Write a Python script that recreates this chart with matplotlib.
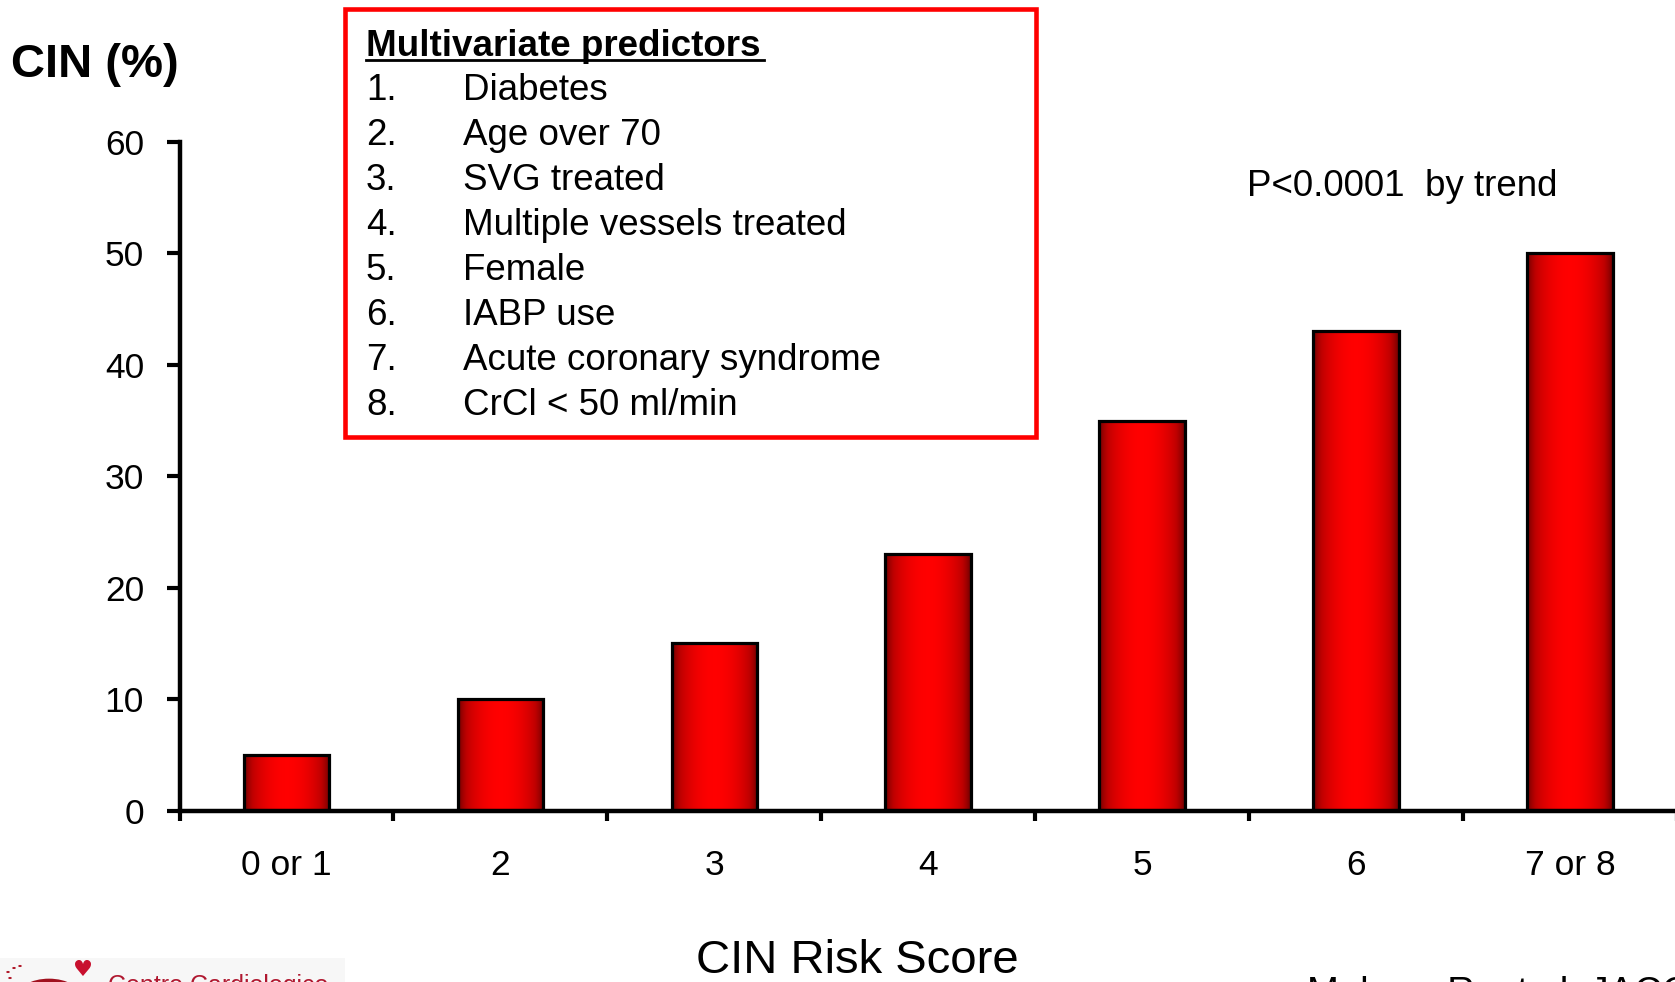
import numpy as np
import matplotlib
matplotlib.use('Agg')
import matplotlib.pyplot as plt
from matplotlib.colors import LinearSegmentedColormap
from matplotlib.patches import Rectangle, Circle
from matplotlib.lines import Line2D

plt.rcParams['font.family'] = ['Liberation Sans', 'DejaVu Sans']

# Data
risk_scores = ['0 or 1', '2', '3', '4', '5', '6', '7 or 8']
cin_pct = [5, 10, 15, 23, 35, 43, 50]
predictors = ['Diabetes', 'Age over 70', 'SVG treated', 'Multiple vessels treated',
              'Female', 'IABP use', 'Acute coronary syndrome', 'CrCl < 50 ml/min']
y_ticks = [0, 10, 20, 30, 40, 50, 60]

W, H = 1675, 982
fig = plt.figure(figsize=(W / 100, H / 100), dpi=100)

def fx(px):
    return px / W

def fy(py):
    return 1 - py / H

ax = fig.add_axes([fx(179.5), fy(810.5), (1677 - 179.5) / W, (810.5 - 142) / H])

x = np.arange(len(risk_scores))
bars = ax.bar(x, cin_pct, width=0.4, facecolor='none', edgecolor='black',
              linewidth=2.3, zorder=3)

# horizontal gradient fill: dark red edges, bright red centre
cmap = LinearSegmentedColormap.from_list('barred', ['#5a0000', '#c00000', '#ff0000'])
t = np.linspace(0, 1, 256)
grad = np.sin(np.pi * t) ** 0.6
for rect in bars:
    x0, w, h = rect.get_x(), rect.get_width(), rect.get_height()
    ax.imshow(grad[np.newaxis, :], cmap=cmap, vmin=0, vmax=1,
              extent=[x0, x0 + w, 0, h], aspect='auto', zorder=2,
              interpolation='bilinear')

ax.set_xlim(-0.5, len(risk_scores) - 0.5)
ax.set_ylim(0, 60)
ax.set_aspect('auto')

for s in ['top', 'right']:
    ax.spines[s].set_visible(False)
for s in ['left', 'bottom']:
    ax.spines[s].set_linewidth(3.2)

ax.set_yticks(y_ticks)
ax.set_yticklabels([str(v) for v in y_ticks])
ax.tick_params(axis='y', length=9.5, width=3, pad=16, labelsize=25.5)

ax.set_xticks(np.arange(len(risk_scores) + 1) - 0.5)
ax.set_xticklabels([])
ax.set_xticks(x, minor=True)
ax.set_xticklabels(risk_scores, minor=True)
ax.tick_params(axis='x', which='major', length=7, width=3)
ax.tick_params(axis='x', which='minor', length=0, pad=28, labelsize=25.5)

# axis titles
fig.text(fx(11), fy(65), 'CIN (%)', fontsize=34, fontweight='bold',
         ha='left', va='center')
fig.text(fx(857), fy(961), 'CIN Risk Score', fontsize=34, ha='center', va='center')

# p-value annotation
fig.text(fx(1247), fy(186), 'P<0.0001  by trend', fontsize=26.5,
         ha='left', va='center')

# predictors box
fig.add_artist(Rectangle((fx(345), fy(437)), fx(1036 - 345), (437 - 8.5) / H,
                         transform=fig.transFigure, facecolor='white',
                         edgecolor='#ff0000', linewidth=3.3))
fig.text(fx(366), fy(47), 'Multivariate predictors', fontsize=26.5,
         fontweight='bold', ha='left', va='center')
fig.add_artist(Line2D([fx(366), fx(764)], [fy(59.5), fy(59.5)],
                      transform=fig.transFigure, color='black', linewidth=2))
for i, item in enumerate(predictors):
    yc = 91 + i * 44.87
    fig.text(fx(366), fy(yc), f'{i + 1}.', fontsize=26.5, ha='left', va='center')
    fig.text(fx(462.5), fy(yc), item, fontsize=26.5, ha='left', va='center')

# citation (cut off at bottom edge, as in the source slide)
fig.text(fx(1307), fy(1004), 'Mehran R, et al. JACC 2004', fontsize=27.5,
         ha='left', va='baseline')

# logo fragment bottom-left
fig.add_artist(Rectangle((0, 0), fx(345), (982 - 958) / H, transform=fig.transFigure,
                         facecolor='#f7f7f7', edgecolor='none'))
fig.add_artist(Circle((fx(49), fy(998)), 33 / W, transform=fig.transFigure,
                      facecolor='#a0101e', edgecolor='none'))
for dx, dy in [(8, 972), (14, 968), (20, 966), (10, 978)]:
    fig.add_artist(Circle((fx(dx), fy(dy)), 1.8 / W, transform=fig.transFigure,
                          facecolor='#b01828', edgecolor='none'))
fig.text(fx(83), fy(970), '\u2665', fontsize=16, color='#c8102e',
         ha='center', va='center', family='DejaVu Sans')
fig.text(fx(108), fy(993), 'Centro Cardiologico', fontsize=18, color='#b01830',
         ha='left', va='baseline')

fig.savefig('out.png', dpi=100)
